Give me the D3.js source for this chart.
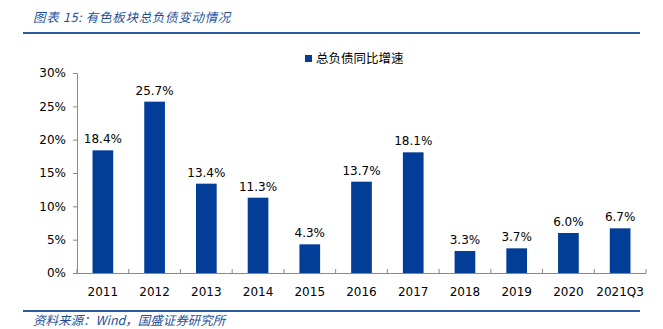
<!DOCTYPE html>
<html><head><meta charset="utf-8">
<script src="https://cdn.jsdelivr.net/npm/d3@7"></script>
<style>body{margin:0;background:#fff}svg{display:block}</style>
</head><body>
<svg id="c" width="663" height="329"></svg>
<script>
const categories = ["2011","2012","2013","2014","2015","2016","2017","2018","2019","2020","2021Q3"];
const values = [18.4,25.7,13.4,11.3,4.3,13.7,18.1,3.3,3.7,6.0,6.7];
const yTicks = [0,5,10,15,20,25,30];
const seriesName = "总负债同比增速";
const title = "图表 15:  有色板块总负债变动情况";
const source = "资料来源：Wind，国盛证券研究所";

(function(){
const svg = d3.select("#c");
const mLeft = 77, mRight = 646, mTop = 73, mBottom = 273;
const font = "'DejaVu Sans', Verdana, sans-serif";
const cjk = "'Noto Sans CJK SC', sans-serif";
const barColor = "#023d97";

// header
svg.append("text").attr("x", 33).attr("y", 22).attr("font-family", cjk).attr("font-style","italic")
  .attr("font-size", 12.5).attr("letter-spacing", 0.7).attr("fill", "#1d4f99").text(title);
svg.append("rect").attr("x", 23).attr("y", 32).attr("width", 640-23).attr("height", 2).attr("fill", "#2a5aa0");
svg.append("rect").attr("x", 23).attr("y", 310).attr("width", 640-23).attr("height", 2).attr("fill", "#2a5aa0");
svg.append("text").attr("x", 33).attr("y", 325).attr("font-family", cjk).attr("font-style","italic")
  .attr("font-size", 12.5).attr("fill", "#1d4f99").text(source);

const x = d3.scaleBand().domain(categories).range([mLeft, mRight]).paddingInner(0.6).paddingOuter(0.3);
const y = d3.scaleLinear().domain([0, 30]).range([mBottom, mTop]);

// y axis
const ya = svg.append("g").attr("transform", `translate(${mLeft},0)`)
  .call(d3.axisLeft(y).tickValues(yTicks).tickFormat(d => d + "%").tickSize(4).tickSizeOuter(0));
ya.select(".domain").attr("stroke", "#888");
ya.selectAll(".tick line").attr("stroke", "#888");
ya.selectAll(".tick text").attr("font-family", font).attr("font-size", 12).attr("fill", "#000").attr("x", -11);

// bars
svg.selectAll(".bar").data(values).join("rect").attr("class","bar")
  .attr("x", (d,i) => x(categories[i])).attr("width", x.bandwidth())
  .attr("y", d => y(d)).attr("height", d => y(0) - y(d)).attr("fill", barColor);

// labels
svg.selectAll(".lbl").data(values).join("text").attr("class","lbl")
  .attr("x", (d,i) => x(categories[i]) + x.bandwidth()/2).attr("y", d => y(d) - 7)
  .attr("text-anchor","middle").attr("font-family", font).attr("font-size", 12).attr("fill","#000")
  .text(d => d.toFixed(1) + "%");

// x axis
const step = (mRight - mLeft) / categories.length;
const xa = svg.append("g");
xa.append("line").attr("x1", mLeft).attr("x2", mRight).attr("y1", mBottom + 0.5).attr("y2", mBottom + 0.5).attr("stroke", "#888");
xa.selectAll(".xt").data(d3.range(categories.length + 1)).join("line")
  .attr("x1", i => mLeft + i*step).attr("x2", i => mLeft + i*step)
  .attr("y1", mBottom - 4).attr("y2", mBottom + 0.5).attr("stroke", "#888");
xa.selectAll(".xl").data(categories).join("text")
  .attr("x", d => x(d) + x.bandwidth()/2).attr("y", 296).attr("text-anchor","middle")
  .attr("font-family", font).attr("font-size", 12).attr("fill","#000").text(d => d);

// legend
svg.append("rect").attr("x", 305).attr("y", 55).attr("width", 7).attr("height", 7).attr("fill", barColor);
svg.append("text").attr("x", 316).attr("y", 63).attr("font-family", cjk).attr("font-size", 12.5).attr("fill","#000").text(seriesName);
})();
</script>
</body></html>
